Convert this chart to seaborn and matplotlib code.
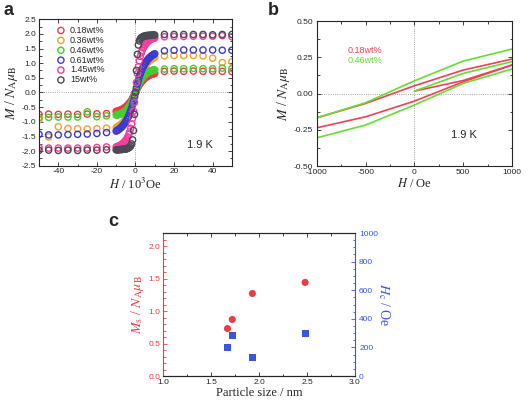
import numpy as np
import pandas as pd
import seaborn as sns
import matplotlib.pyplot as plt
from matplotlib.ticker import MultipleLocator, FormatStrFormatter

# %% data, panel a (M-H loops at 1.9 K), H in 10^3 Oe

H_a = [-50, -45, -40, -35, -30, -25, -20, -15,
       -10, -9.5, -9, -8.5, -8, -7.5, -7, -6.5, -6, -5.5,
       -5, -4.5, -4, -3.5, -3, -2.5, -2, -1.5, -1, -0.5,
       0,
       0.5, 1, 1.5, 2, 2.5, 3, 3.5, 4, 4.5, 5,
       5.5, 6, 6.5, 7, 7.5, 8, 8.5, 9, 9.5, 10,
       15, 20, 25, 30, 35, 40, 45, 50]

M_018 = [-0.75, -0.74, -0.75, -0.74, -0.75, -0.74, -0.73, -0.72,
         -0.65, -0.64, -0.63, -0.62, -0.61, -0.60, -0.58, -0.56, -0.54, -0.52,
         -0.49, -0.46, -0.43, -0.39, -0.35, -0.31, -0.26, -0.20, -0.14, -0.07,
         0.0,
         0.07, 0.14, 0.20, 0.26, 0.31, 0.35, 0.39, 0.43, 0.46, 0.49,
         0.52, 0.54, 0.56, 0.58, 0.60, 0.61, 0.62, 0.63, 0.64, 0.65,
         0.72, 0.73, 0.72, 0.73, 0.72, 0.73, 0.72, 0.71]
M_036 = [-0.93, -1.52, -1.17, -1.23, -1.24, -1.25, -1.24, -1.22,
         -1.20, -1.18, -1.16, -1.14, -1.12, -1.09, -1.06, -1.03, -0.99, -0.95,
         -0.90, -0.85, -0.79, -0.72, -0.65, -0.57, -0.48, -0.37, -0.26, -0.13,
         0.0,
         0.13, 0.26, 0.37, 0.48, 0.57, 0.65, 0.72, 0.79, 0.85, 0.90,
         0.95, 0.99, 1.03, 1.06, 1.09, 1.12, 1.14, 1.16, 1.18, 1.20,
         1.25, 1.26, 1.26, 1.26, 1.25, 1.17, 1.02, 1.05]
M_046 = [-0.86, -0.85, -0.84, -0.84, -0.84, -0.66, -0.83, -0.80,
         -0.77, -0.77, -0.76, -0.75, -0.74, -0.73, -0.71, -0.69, -0.67, -0.65,
         -0.62, -0.59, -0.55, -0.51, -0.46, -0.40, -0.34, -0.27, -0.19, -0.10,
         0.0,
         0.10, 0.19, 0.27, 0.34, 0.40, 0.46, 0.51, 0.55, 0.59, 0.62,
         0.65, 0.67, 0.69, 0.71, 0.73, 0.74, 0.75, 0.76, 0.77, 0.77,
         0.80, 0.81, 0.81, 0.82, 0.81, 0.81, 0.83, 0.81]
M_061 = [-1.43, -1.45, -1.45, -1.44, -1.43, -1.42, -1.40, -1.37,
         -1.32, -1.30, -1.28, -1.26, -1.23, -1.20, -1.17, -1.13, -1.09, -1.04,
         -0.99, -0.93, -0.87, -0.80, -0.72, -0.63, -0.53, -0.41, -0.29, -0.15,
         0.0,
         0.15, 0.29, 0.41, 0.53, 0.63, 0.72, 0.80, 0.87, 0.93, 0.99,
         1.04, 1.09, 1.13, 1.17, 1.20, 1.23, 1.26, 1.28, 1.30, 1.32,
         1.42, 1.44, 1.45, 1.45, 1.45, 1.45, 1.44, 1.44]
M_145 = [-1.88, -1.90, -1.90, -1.90, -1.90, -1.90, -1.88, -1.86,
         -1.86, -1.85, -1.84, -1.83, -1.81, -1.79, -1.77, -1.74, -1.71, -1.67,
         -1.63, -1.58, -1.52, -1.44, -1.35, -1.23, -1.08, -0.88, -0.64, -0.34,
         0.0,
         0.34, 0.64, 0.88, 1.08, 1.23, 1.35, 1.44, 1.52, 1.58, 1.63,
         1.67, 1.71, 1.74, 1.77, 1.79, 1.81, 1.83, 1.84, 1.85, 1.86,
         1.90, 1.91, 1.91, 1.92, 1.92, 1.92, 1.94, 1.90]
M_15 = [-1.98, -1.97, -1.98, -1.97, -1.98, -1.97, -1.97, -1.96,
        -1.96, -1.96, -1.96, -1.95, -1.95, -1.95, -1.95, -1.94, -1.94, -1.94,
        -1.93, -1.92, -1.91, -1.89, -1.87, -1.83, -1.76, -1.62, -1.30, -0.75,
        0.0,
        0.75, 1.30, 1.62, 1.76, 1.83, 1.87, 1.89, 1.91, 1.92, 1.93,
        1.94, 1.94, 1.95, 1.95, 1.95, 1.95, 1.96, 1.96, 1.96, 1.96,
        1.98, 1.98, 1.98, 1.98, 1.98, 1.97, 1.98, 1.98]

labels_a = ["0.18wt%", "0.36wt%", "0.46wt%", "0.61wt%", "1.45wt%", "15wt%"]
colors_a = ["#ee3a48", "#f2a030", "#3fd22a", "#3a3ad0", "#f53c9c", "#4a4a55"]
series_a = [M_018, M_036, M_046, M_061, M_145, M_15]

# %% data, panel b (low field part, lines)

H_virgin = [0, 500, 1000]
H_down = [1000, 500, 0, -500, -1000]
H_up = [-1000, -500, 0, 500, 1000]

red_virgin = [0.017, 0.09, 0.197]
red_down = [0.238, 0.162, 0.054, -0.068, -0.167]
red_up = [-0.236, -0.160, -0.052, 0.081, 0.197]

green_virgin = [0.017, 0.139, 0.220]
green_down = [0.307, 0.224, 0.088, -0.063, -0.167]
green_up = [-0.305, -0.217, -0.079, 0.070, 0.169]

# %% data, panel c

size_nm = [1.67, 1.72, 1.93, 2.48]
Ms = [0.73, 0.87, 1.27, 1.44]
Hc = [200, 283, 130, 300]

red_c = "#ee3a48"
blue_c = "#3b55e0"

# %% style

sns.set_style("ticks")
plt.rcParams['font.family'] = ['Liberation Sans', 'DejaVu Sans']
plt.rcParams['mathtext.fontset'] = 'stix'
plt.rcParams['axes.unicode_minus'] = False
plt.rcParams['xtick.direction'] = 'in'
plt.rcParams['ytick.direction'] = 'in'
plt.rcParams['xtick.labelsize'] = 6
plt.rcParams['ytick.labelsize'] = 6
plt.rcParams['axes.linewidth'] = 0.8

xlab_font = dict(fontsize=9, family='Liberation Serif')
ylab_font = dict(fontsize=10, family='Liberation Serif')


def boxTicks(ax):
    ax.tick_params(which='both', top=True, right=True, width=0.6)
    ax.tick_params(which='major', length=3, pad=2)
    ax.tick_params(which='minor', length=1.8)


fig = plt.figure(figsize=(5.3, 4.05), dpi=100)

# %% panel a

ax_a = fig.add_axes([0.0736, 0.591, 0.364, 0.3615])
ax_a.axhline(0, color='#888888', lw=0.6, ls=':', zorder=0)
ax_a.axvline(0, color='#888888', lw=0.6, ls=':', zorder=0)

for M, lab, col in zip(series_a, labels_a, colors_a):
    sns.scatterplot(x=H_a, y=M, ax=ax_a, s=20, marker='o',
                    facecolors='none', edgecolor=col, linewidth=1.0, label=lab)

ax_a.set_xlim(-50, 50)
ax_a.set_ylim(-2.5, 2.5)
ax_a.xaxis.set_major_locator(MultipleLocator(20))
ax_a.xaxis.set_minor_locator(MultipleLocator(10))
ax_a.yaxis.set_major_locator(MultipleLocator(0.5))
ax_a.yaxis.set_minor_locator(MultipleLocator(0.25))
ax_a.yaxis.set_major_formatter(FormatStrFormatter('%.1f'))
boxTicks(ax_a)
ax_a.set_xlabel(r'$H$ / 10$^3$Oe', labelpad=1, **xlab_font)
ax_a.set_ylabel(r'$M$ / $N_{\rm A}\mu_{\rm B}$', labelpad=1, **ylab_font)
ax_a.legend(loc='upper left', bbox_to_anchor=(0.09, 0.955), frameon=False,
            fontsize=6.5, handlelength=1.0, handletextpad=0.5, labelspacing=0.1,
            borderpad=0, borderaxespad=0)
ax_a.text(33.4, -1.81, "1.9 K", fontsize=8, ha='center', va='center')

# %% panel b

rows = []
for name, parts in [("0.18wt%", [(H_virgin, red_virgin), (H_down, red_down), (H_up, red_up)]),
                    ("0.46wt%", [(H_virgin, green_virgin), (H_down, green_down), (H_up, green_up)])]:
    for k, (hh, mm) in enumerate(parts):
        for h, m in zip(hh, mm):
            rows.append({"H": h, "M": m, "sample": name, "branch": k})
df_b = pd.DataFrame(rows)

ax_b = fig.add_axes([0.598, 0.590, 0.368, 0.358])
ax_b.axhline(0, color='#888888', lw=0.6, ls=':', zorder=0)
ax_b.axvline(0, color='#888888', lw=0.6, ls=':', zorder=0)
sns.lineplot(data=df_b, x="H", y="M", hue="sample", units="branch", estimator=None,
             sort=False, palette={"0.18wt%": "#f04058", "0.46wt%": "#66dd33"},
             lw=1.2, legend=False, ax=ax_b)
ax_b.set_xlim(-1000, 1000)
ax_b.set_ylim(-0.5, 0.5)
ax_b.xaxis.set_major_locator(MultipleLocator(500))
ax_b.xaxis.set_minor_locator(MultipleLocator(250))
ax_b.yaxis.set_major_locator(MultipleLocator(0.25))
ax_b.yaxis.set_minor_locator(MultipleLocator(0.125))
ax_b.yaxis.set_major_formatter(FormatStrFormatter('%.2f'))
boxTicks(ax_b)
ax_b.tick_params(axis='y', which='major', pad=3)
ax_b.set_xlabel(r'$H$ / Oe', labelpad=1, **xlab_font)
ax_b.set_ylabel(r'$M$ / $N_{\rm A}\mu_{\rm B}$', labelpad=1, **ylab_font)
ax_b.text(-684, 0.296, "0.18wt%", color="#f04058", fontsize=6.5, va='center')
ax_b.text(-684, 0.229, "0.46wt%", color="#66dd33", fontsize=6.5, va='center')
ax_b.text(509, -0.286, "1.9 K", fontsize=8, ha='center', va='center')

# %% panel c

ax_c = fig.add_axes([0.308, 0.0716, 0.3617, 0.353])
sns.scatterplot(x=size_nm, y=Ms, ax=ax_c, color=red_c, s=26, marker='o',
                edgecolor='none', zorder=3)
ax_c.set_xlim(1.0, 3.0)
ax_c.set_ylim(0, 2.2)
ax_c.xaxis.set_major_locator(MultipleLocator(0.5))
ax_c.xaxis.set_minor_locator(MultipleLocator(0.25))
ax_c.yaxis.set_major_locator(MultipleLocator(0.5))
ax_c.yaxis.set_minor_locator(MultipleLocator(0.1))
ax_c.xaxis.set_major_formatter(FormatStrFormatter('%.1f'))
ax_c.yaxis.set_major_formatter(FormatStrFormatter('%.1f'))
ax_c.tick_params(which='both', top=True, right=False, width=0.6)
ax_c.tick_params(which='major', length=3, pad=2)
ax_c.tick_params(which='minor', length=1.8)
ax_c.tick_params(axis='y', which='both', colors=red_c)
ax_c.spines['left'].set_color(red_c)
ax_c.spines['right'].set_visible(False)
ax_c.set_xlabel('Particle size / nm', labelpad=1, **xlab_font)
ax_c.set_ylabel(r'$M_{\rm s}$ / $N_{\rm A}\mu_{\rm B}$', color=red_c, labelpad=2, **ylab_font)

ax_c2 = ax_c.twinx()
sns.scatterplot(x=size_nm, y=Hc, ax=ax_c2, color=blue_c, s=24, marker='s',
                edgecolor='none', zorder=3)
ax_c2.set_ylim(0, 1000)
ax_c2.yaxis.set_major_locator(MultipleLocator(200))
ax_c2.yaxis.set_minor_locator(MultipleLocator(50))
ax_c2.tick_params(which='both', colors=blue_c, width=0.6)
ax_c2.tick_params(which='major', length=3, pad=3)
ax_c2.tick_params(which='minor', length=1.8)
ax_c2.spines['right'].set_color(blue_c)
ax_c2.spines['left'].set_visible(False)
ax_c2.set_ylabel(r'$H_{\rm c}$ / Oe', color=blue_c, rotation=270, labelpad=10, **ylab_font)

# %% panel letters

fig.text(0.006, 0.995, "a", fontsize=13, fontweight='bold', va='top')
fig.text(0.505, 0.995, "b", fontsize=13, fontweight='bold', va='top')
fig.text(0.205, 0.475, "c", fontsize=13, fontweight='bold', va='top')

fig.savefig("out.png", dpi=100)
